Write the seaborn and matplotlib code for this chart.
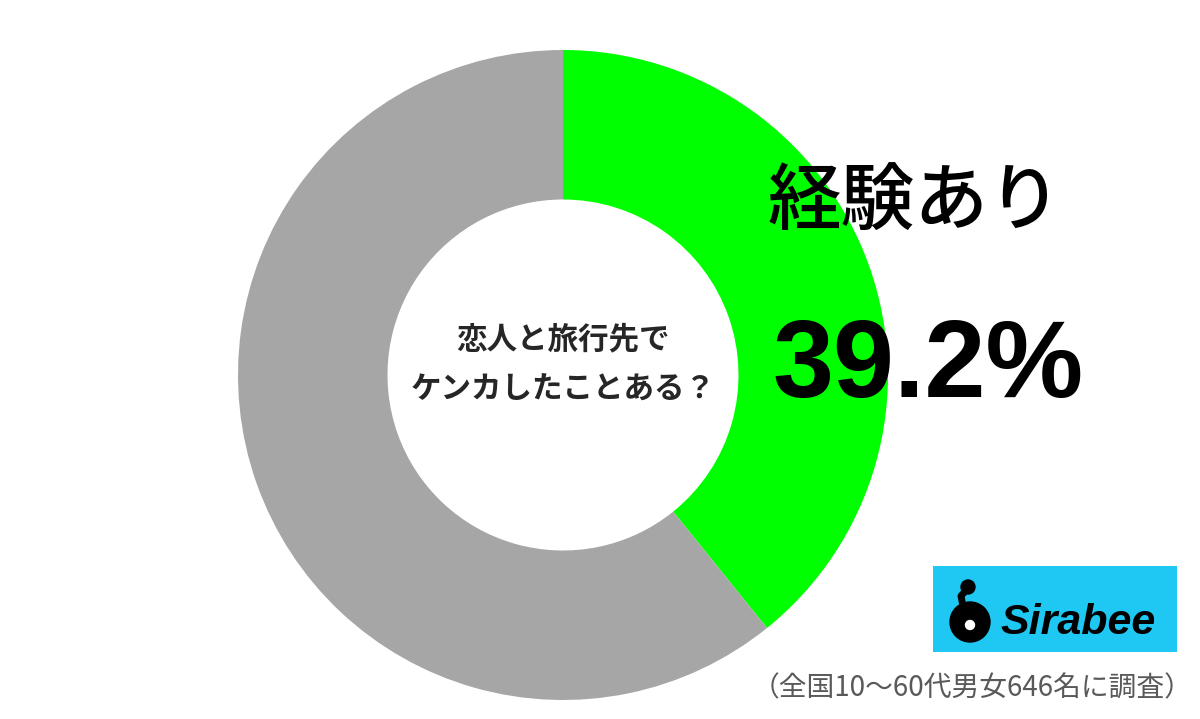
import matplotlib
matplotlib.use("Agg")
import matplotlib.pyplot as plt
import seaborn as sns
from matplotlib.patches import Rectangle, Circle

# データ
labels = ["経験あり", "経験なし"]
values = [39.2, 60.8]
colors = ["#00FF00", "#A6A6A6"]
question_lines = ["恋人と旅行先で", "ケンカしたことある？"]
highlight_label = "経験あり"
highlight_value = "39.2%"
note = "（全国10～60代男女646名に調査）"
logo_text = "Sirabee"

sns.set_theme(style="white")
plt.rcParams["font.family"] = ["Noto Sans CJK JP", "DejaVu Sans"]

W, H = 1200, 719
fig = plt.figure(figsize=(W / 100, H / 100), dpi=100)
fig.patch.set_facecolor("white")

# ドーナツ (中心 563,375 半径 325px)
cx, cy, r = 563, 375, 325
ax = fig.add_axes([(cx - r) / W, (H - cy - r) / H, 2 * r / W, 2 * r / H])
ax.pie(values, colors=sns.color_palette(colors), startangle=90, counterclock=False,
       radius=1, wedgeprops=dict(width=0.46, linewidth=0))
ax.set_xlim(-1, 1)
ax.set_ylim(-1, 1)
ax.set_aspect("equal")
ax.axis("off")

# 中央の質問
fig.text(cx / W, 1 - 339 / H, question_lines[0], ha="center", va="center",
         fontsize=22, fontweight="bold", color="#262626")
fig.text(cx / W, 1 - 390 / H, question_lines[1], ha="center", va="center",
         fontsize=22, fontweight="bold", color="#262626")

# 強調ラベル
fig.text(915 / W, 1 - 204 / H, highlight_label, ha="center", va="center",
         fontsize=53, fontweight="medium", color="black")
fig.text(928 / W, 1 - 397 / H, highlight_value, ha="center", va="baseline",
         fontsize=79, fontweight="bold", color="black",
         family=["Liberation Sans", "DejaVu Sans"])

# ロゴ
logo_ax = fig.add_axes([933 / W, 1 - 652 / H, 244 / W, 86 / H])
logo_ax.set_xlim(0, 244)
logo_ax.set_ylim(86, 0)
logo_ax.axis("off")
logo_ax.add_patch(Rectangle((0, 0), 244, 86, facecolor="#1EC8F2", edgecolor="none"))
logo_ax.add_patch(Circle((37, 56), 20, color="black"))
logo_ax.add_patch(Circle((35, 21), 7, color="black"))
logo_ax.plot([35, 28, 30, 38], [22, 30, 40, 48], color="black", lw=5, solid_capstyle="round")
logo_ax.add_patch(Circle((37, 59), 4.5, color="white"))
logo_ax.text(145, 57, logo_text, ha="center", va="center", fontsize=31,
             fontweight="bold", style="italic", color="black",
             family=["Liberation Sans", "DejaVu Sans"])

# 注記
fig.text(972 / W, 1 - 688 / H, note, ha="center", va="center",
         fontsize=20, color="#595959")

fig.savefig("out.png", dpi=100, facecolor="white")
